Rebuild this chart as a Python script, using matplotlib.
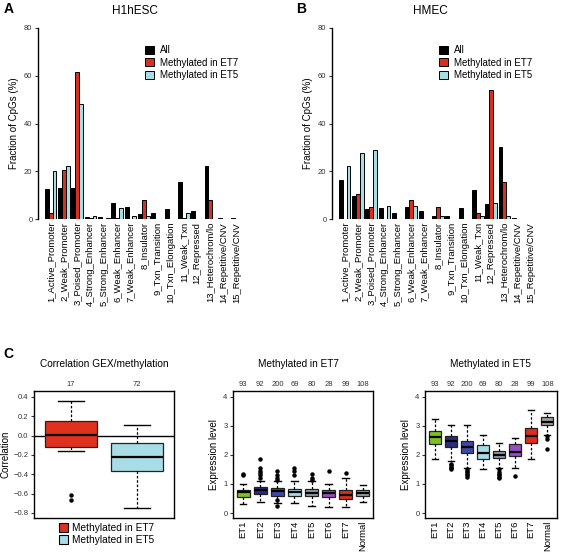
import matplotlib
matplotlib.use("Agg")
import matplotlib.pyplot as plt
import numpy as np
from matplotlib.patches import Patch

plt.rcParams['font.family'] = ['Liberation Sans', 'DejaVu Sans']

states = ["1_Active_Promoter", "2_Weak_Promoter", "3_Poised_Promoter", "4_Strong_Enhancer",
          "5_Strong_Enhancer", "6_Weak_Enhancer", "7_Weak_Enhancer", "8_Insulator",
          "9_Txn_Transition", "10_Txn_Elongation", "11_Weak_Txn", "12_Repressed",
          "13_Heterochrom/lo", "14_Repetitive/CNV", "15_Repetitive/CNV"]

h1_all = [12.5, 13.0, 12.8, 1.0, 1.0, 6.5, 5.2, 2.0, 2.5, 4.3, 15.7, 3.3, 22.0, 0.5, 0.4]
h1_et7 = [2.5, 20.5, 61.5, 0.5, 0.2, 0.3, 0.2, 8.0, 0.2, 0.2, 0.3, 0.2, 8.0, 0.2, 0.2]
h1_et5 = [20.0, 22.3, 48.0, 1.2, 0.3, 4.5, 1.2, 1.2, 0.2, 0.2, 2.5, 0.2, 0.2, 0.2, 0.2]

hm_all = [16.5, 9.5, 4.3, 4.8, 2.7, 5.0, 3.5, 1.2, 1.2, 4.8, 12.0, 6.3, 30.0, 0.4, 0.2]
hm_et7 = [0.1, 10.3, 5.2, 0.2, 0.1, 8.0, 0.1, 5.2, 0.2, 0.1, 2.5, 54.0, 15.5, 0.1, 0.1]
hm_et5 = [22.3, 27.8, 29.0, 5.5, 0.2, 5.5, 0.2, 1.2, 0.2, 0.2, 1.2, 6.8, 1.2, 0.1, 0.1]

series_names = ["All", "Methylated in ET7", "Methylated in ET5"]
series_colors = ["#000000", "#D8301E", "#A6DCE6"]

# Correlation box stats (ET7, ET5)
corr_labels = ["Methylated in ET7", "Methylated in ET5"]
corr_counts = ["17", "72"]
corr_stats = [
    dict(whislo=-0.16, q1=-0.12, med=0.01, q3=0.15, whishi=0.36, fliers=[-0.61, -0.67]),
    dict(whislo=-0.75, q1=-0.37, med=-0.22, q3=-0.08, whishi=0.11, fliers=[]),
]
corr_colors = ["#E0301E", "#A8DDE6"]

et_groups = ["ET1", "ET2", "ET3", "ET4", "ET5", "ET6", "ET7", "Normal"]
et_counts = ["93", "92", "200", "69", "80", "28", "99", "108"]
et_colors = ["#7CC11F", "#2B2D7C", "#3F47A8", "#A6DCE8", "#8CA3A8", "#9A4CC4", "#DD2E1A", "#A0A0A0"]

et7_stats = [
    dict(whislo=0.30, q1=0.55, med=0.72, q3=0.80, whishi=1.00, fliers=[1.30, 1.35]),
    dict(whislo=0.38, q1=0.65, med=0.78, q3=0.90, whishi=1.12, fliers=[1.20, 1.30, 1.38, 1.45, 1.55, 1.85]),
    dict(whislo=0.35, q1=0.60, med=0.75, q3=0.85, whishi=1.10, fliers=[0.25, 0.45, 1.15, 1.20, 1.30, 1.45]),
    dict(whislo=0.35, q1=0.60, med=0.72, q3=0.83, whishi=1.12, fliers=[1.30, 1.45, 1.55]),
    dict(whislo=0.25, q1=0.60, med=0.70, q3=0.83, whishi=1.10, fliers=[1.15, 1.22, 1.35]),
    dict(whislo=0.22, q1=0.55, med=0.68, q3=0.78, whishi=1.00, fliers=[1.45]),
    dict(whislo=0.22, q1=0.47, med=0.62, q3=0.78, whishi=1.20, fliers=[1.38]),
    dict(whislo=0.38, q1=0.60, med=0.70, q3=0.78, whishi=0.97, fliers=[]),
]

et5_stats = [
    dict(whislo=1.85, q1=2.38, med=2.62, q3=2.82, whishi=3.22, fliers=[]),
    dict(whislo=1.80, q1=2.27, med=2.48, q3=2.65, whishi=3.03, fliers=[1.50, 1.55, 1.60, 1.65, 1.70]),
    dict(whislo=1.55, q1=2.05, med=2.28, q3=2.48, whishi=3.03, fliers=[1.25, 1.30, 1.35, 1.40, 1.45, 1.50]),
    dict(whislo=1.50, q1=1.85, med=2.08, q3=2.33, whishi=2.68, fliers=[]),
    dict(whislo=1.55, q1=1.90, med=2.00, q3=2.13, whishi=2.42, fliers=[1.20, 1.25, 1.30, 1.35, 1.42, 1.50]),
    dict(whislo=1.55, q1=1.95, med=2.10, q3=2.38, whishi=2.58, fliers=[1.28]),
    dict(whislo=1.85, q1=2.40, med=2.65, q3=2.92, whishi=3.55, fliers=[]),
    dict(whislo=2.70, q1=3.02, med=3.15, q3=3.30, whishi=3.45, fliers=[2.20, 2.55, 2.65]),
]

W, H = 566, 555
fig = plt.figure(figsize=(W / 100, H / 100), dpi=100)


def ax_px(x0, y0, x1, y1):
    return fig.add_axes([x0 / W, 1 - y1 / H, (x1 - x0) / W, (y1 - y0) / H])


TICK_COLOR = "#333333"


def bar_panel(ax, vals, title, title_x, legend_x):
    x = np.arange(len(states))
    bw = 0.29
    for k, (v, c) in enumerate(zip(vals, series_colors)):
        ax.bar(x + (k - 1) * bw, v, width=bw, color=c, edgecolor="black", linewidth=0.7,
               label=series_names[k])
    ax.set_xlim(-0.95, 14.6)
    ax.set_ylim(0, 80)
    ax.set_yticks([0, 20, 40, 60, 80])
    ax.tick_params(axis='y', labelsize=5.5, length=2.5, width=0.8, colors=TICK_COLOR, pad=1.5)
    ax.set_xticks(x)
    ax.set_xticklabels(states, rotation=90, fontsize=6.8)
    ax.tick_params(axis='x', length=0, pad=2)
    for s in ["top", "right", "bottom"]:
        ax.spines[s].set_visible(False)
    ax.spines["left"].set_linewidth(1.0)
    ax.spines["left"].set_bounds(0, 80)
    ax.set_ylabel("Fraction of CpGs (%)", fontsize=7, labelpad=4)
    ax.legend(loc="upper left", bbox_to_anchor=(legend_x, 0.93), frameon=False, fontsize=7,
              handlelength=0.9, handleheight=0.9, handletextpad=0.6, labelspacing=0.25,
              borderaxespad=0)
    fig.text(title_x / W, 1 - 11 / H, title, fontsize=8.5, ha="center", va="center")


axA = ax_px(38, 28, 245, 219)
bar_panel(axA, [h1_all, h1_et7, h1_et5], "H1hESC", 135, 0.5)
axB = ax_px(332, 28, 539, 219)
bar_panel(axB, [hm_all, hm_et7, hm_et5], "HMEC", 430, 0.5)

fig.text(4 / W, 1 - 9 / H, "A", fontsize=10, fontweight="bold", ha="left", va="center")
fig.text(296 / W, 1 - 9 / H, "B", fontsize=10, fontweight="bold", ha="left", va="center")
fig.text(3 / W, 1 - 354 / H, "C", fontsize=10, fontweight="bold", ha="left", va="center")


def draw_box(ax, stats, colors, width):
    bp = ax.bxp(stats, positions=np.arange(1, len(stats) + 1), widths=width, patch_artist=True,
                showfliers=True,
                boxprops=dict(edgecolor="#222222", linewidth=0.9),
                medianprops=dict(color="black", linewidth=1.6),
                whiskerprops=dict(color="black", linewidth=0.9, linestyle=(0, (2, 1.5))),
                capprops=dict(color="black", linewidth=1.0),
                flierprops=dict(marker="o", markersize=2.2, markerfacecolor="black",
                                markeredgecolor="black", linestyle="none"))
    for patch, c in zip(bp["boxes"], colors):
        patch.set_facecolor(c)
    for cap in bp["caps"]:
        xd = cap.get_xdata()
        m = (xd[0] + xd[1]) / 2
        cap.set_xdata([m - width * 0.25, m + width * 0.25])
    return bp


def style_box_axes(ax):
    for s in ax.spines.values():
        s.set_linewidth(1.0)
    ax.tick_params(axis='y', labelsize=5.5, length=2.5, width=0.8, colors=TICK_COLOR, pad=1.5)


# C1: correlation
ax2 = ax_px(34, 391, 174, 518)
ax2.axhline(0, color="black", linewidth=1.0, zorder=1)
draw_box(ax2, corr_stats, corr_colors, 0.8)
ax2.set_xlim(0.44, 2.56)
ax2.set_ylim(-0.852, 0.462)
ax2.set_yticks([0.4, 0.2, 0.0, -0.2, -0.4, -0.6, -0.8])
ax2.set_yticklabels(["0.4", "0.2", "0.0", "\u22120.2", "\u22120.4", "\u22120.6", "\u22120.8"])
ax2.set_xticks([])
style_box_axes(ax2)
ax2.set_ylabel("Correlation", fontsize=7, labelpad=2)
top = ax2.secondary_xaxis("top")
top.set_xticks([1, 2])
top.set_xticklabels(corr_counts)
top.tick_params(length=0, labelsize=5.5, pad=2, colors=TICK_COLOR)
top.spines["top"].set_visible(False)
fig.text(104 / W, 1 - 364 / H, "Correlation GEX/methylation", fontsize=7.3, ha="center", va="center")
handles = [Patch(facecolor=c, edgecolor="black", linewidth=0.8) for c in corr_colors]
fig.legend(handles, corr_labels, loc="upper left", bbox_to_anchor=(55 / W, 1 - 519 / H),
           frameon=False, fontsize=7.3, handlelength=0.9, handleheight=0.9, handletextpad=0.4,
           labelspacing=0.2, borderaxespad=0)


def et_panel(ax, stats, title, title_x):
    draw_box(ax, stats, et_colors, 0.75)
    ax.set_xlim(0.4, 8.6)
    ax.set_ylim(-0.17, 4.2)
    ax.set_yticks([0, 1, 2, 3, 4])
    ax.set_xticks(np.arange(1, 9))
    ax.set_xticklabels(et_groups, rotation=90, fontsize=6.8)
    ax.tick_params(axis='x', length=0, pad=2)
    style_box_axes(ax)
    ax.set_ylabel("Expression level", fontsize=7, labelpad=3)
    t = ax.secondary_xaxis("top")
    t.set_xticks(np.arange(1, 9))
    t.set_xticklabels(et_counts)
    t.tick_params(length=0, labelsize=5.5, pad=2, colors=TICK_COLOR)
    t.spines["top"].set_visible(False)
    fig.text(title_x / W, 1 - 364 / H, title, fontsize=7.2, ha="center", va="center")


axC2 = ax_px(233, 391, 373, 518)
et_panel(axC2, et7_stats, "Methylated in ET7", 298)
axC3 = ax_px(425, 391, 557, 518)
et_panel(axC3, et5_stats, "Methylated in ET5", 490)

fig.savefig("out.png", dpi=100)
